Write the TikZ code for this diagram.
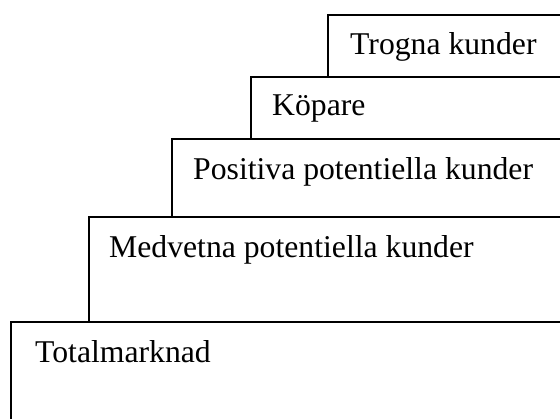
\documentclass[tikz,border=0pt]{standalone}
\usepackage{fontspec}
\setmainfont{Liberation Serif}
\begin{document}
\begin{tikzpicture}[x=1pt,y=-1pt,
  stepbox/.style={draw=black,line width=1.6pt,fill=white},
  lbl/.style={anchor=base west,inner sep=0pt,font=\fontsize{31.7}{38}\selectfont}]
\useasboundingbox (0,0) rectangle (560,419);
\clip (0,0) rectangle (560,419);
\fill[white] (0,0) rectangle (560,419);
\draw[stepbox] (328,15) rectangle (580,77);
\draw[stepbox] (251,77) rectangle (580,139);
\draw[stepbox] (172,139) rectangle (580,217);
\draw[stepbox] (89,217) rectangle (580,322);
\draw[stepbox] (11,322) rectangle (580,440);
\node[lbl] (t1) at (350,55) {Trogna kunder};
\node[lbl] (t2) at (272,116) {Köpare};
\node[lbl] (t3) at (193,180) {Positiva potentiella kunder};
\node[lbl] (t4) at (109,258) {Medvetna potentiella kunder};
\node[lbl] (t5) at (35,363) {Totalmarknad};
\end{tikzpicture}
\end{document}
